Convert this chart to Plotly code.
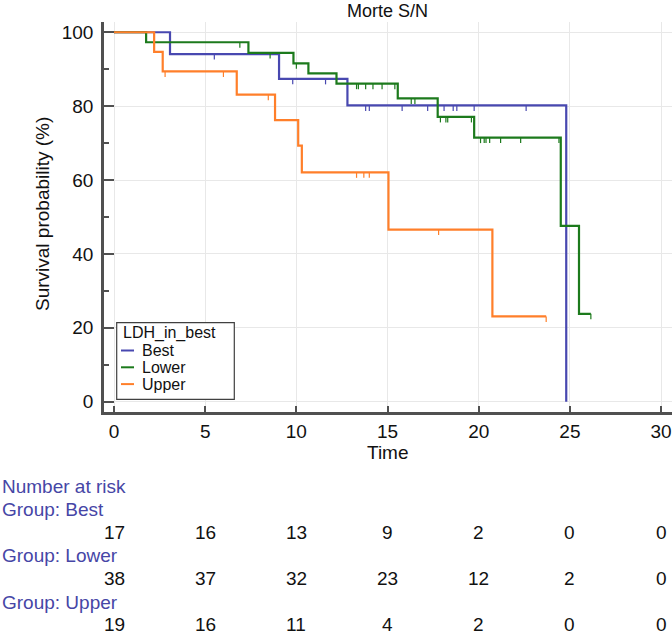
import numpy as np
import plotly.graph_objects as go

# ---------------- data ----------------
groups = ["Best", "Lower", "Upper"]
colors = ["#4848b0", "#1c7a1c", "#ff7f2a"]

best_t = [0, 3.07, 9.05, 12.8, 24.8]
best_s = [100, 94.1, 87.4, 80.2, 0]
best_end = 24.8
best_cens = [5.5, 9.8, 11.6, 13.8, 14.0, 15.8, 17.2, 18.1, 18.6, 18.8, 19.75, 22.6]

lower_t = [0, 1.76, 7.37, 9.84, 10.66, 12.2, 15.56, 17.75, 19.75, 24.5, 25.5]
lower_s = [100, 97.3, 94.4, 91.6, 88.9, 86.1, 82.1, 77.1, 71.5, 47.6, 23.8]
lower_end = 26.15
lower_cens = [6.9, 8.56, 10.0, 13.3, 13.4, 13.8, 14.2, 14.7, 15.4, 16.3, 16.5,
              17.9, 18.2, 18.3, 19.6, 20.1, 20.3, 20.4, 20.6, 21.2, 22.3, 24.4, 26.15]

upper_t = [0, 2.2, 2.67, 6.73, 8.83, 10.1, 10.3, 15.05, 20.75]
upper_s = [100, 94.7, 89.4, 83.1, 76.2, 69.3, 62.1, 46.6, 23.1]
upper_end = 23.7
upper_cens = [2.8, 6.0, 8.46, 13.3, 13.7, 14.0, 17.8, 23.7]

risk_times = [0, 5, 10, 15, 20, 25, 30]
risk_best = [17, 16, 13, 9, 2, 0, 0]
risk_lower = [38, 37, 32, 23, 12, 2, 0]
risk_upper = [19, 16, 11, 4, 2, 0, 0]

x_ticks = [0, 5, 10, 15, 20, 25, 30]
y_ticks = [0, 20, 40, 60, 80, 100]

# ---------------- layout geometry ----------------
W, H = 672, 637
L, R, T, B = 104, 672, 22, 412
FONT = "Liberation Sans, Arial, Helvetica, sans-serif"
RISK_COLOR = "#4646a6"
AXIS_COLOR = "#505050"


def px_x(px):
    return (px - L) / (R - L)


def px_y(py):
    return (B - py) / (B - T)


def step_value(ts, ss, t):
    i = np.searchsorted(np.asarray(ts), t, side="right") - 1
    return ss[max(i, 0)]


series = [
    (best_t, best_s, best_end, best_cens),
    (lower_t, lower_s, lower_end, lower_cens),
    (upper_t, upper_s, upper_end, upper_cens),
]

fig = go.Figure()
for name, color, (ts, ss, end, cens) in zip(groups, colors, series):
    xs = list(ts)
    ys = list(ss)
    if end > ts[-1]:
        xs.append(end)
        ys.append(ss[-1])
    fig.add_trace(go.Scatter(x=xs, y=ys, mode="lines", line=dict(color=color, width=2.2, shape="hv"),
                             name=name, showlegend=False, hoverinfo="skip"))
    cx, cy = [], []
    for c in cens:
        v = step_value(ts, ss, c)
        cx += [c, c, None]
        cy += [v, v - 1.5, None]
    fig.add_trace(go.Scatter(x=cx, y=cy, mode="lines", line=dict(color=color, width=1.2),
                             showlegend=False, hoverinfo="skip"))

annotations = []
shapes = []

# title
annotations.append(dict(text="Morte S/N", x=px_x(387), y=px_y(11), xref="paper", yref="paper",
                        showarrow=False, font=dict(size=18, color="#111", family=FONT),
                        xanchor="center", yanchor="middle"))
# y title
annotations.append(dict(text="Survival probability (%)", x=px_x(42), y=px_y(214), xref="paper", yref="paper",
                        showarrow=False, textangle=-90, font=dict(size=19, color="#111", family=FONT),
                        xanchor="center", yanchor="middle"))
# x title
annotations.append(dict(text="Time", x=px_x(388), y=px_y(452), xref="paper", yref="paper",
                        showarrow=False, font=dict(size=19, color="#111", family=FONT),
                        xanchor="center", yanchor="middle"))

# risk table
annotations.append(dict(text="Number at risk", x=px_x(0), y=px_y(486), xref="paper", yref="paper",
                        showarrow=False, font=dict(size=19, color=RISK_COLOR, family=FONT),
                        xanchor="left", yanchor="middle"))
rows = [("Group: Best", risk_best), ("Group: Lower", risk_lower), ("Group: Upper", risk_upper)]
row_y = 509
for label, vals in rows:
    annotations.append(dict(text=label, x=px_x(0), y=px_y(row_y), xref="paper", yref="paper",
                            showarrow=False, font=dict(size=19, color=RISK_COLOR, family=FONT),
                            xanchor="left", yanchor="middle"))
    for t, v in zip(risk_times, vals):
        annotations.append(dict(text=str(v), x=t, y=px_y(row_y + 23), xref="x", yref="paper",
                                showarrow=False, font=dict(size=19, color="#111", family=FONT),
                                xanchor="center", yanchor="middle"))
    row_y += 46.5

# custom legend
lx0, lx1, ly0, ly1 = 116.7, 234.3, 322.7, 399.3
shapes.append(dict(type="rect", xref="paper", yref="paper", x0=px_x(lx0), x1=px_x(lx1),
                   y0=px_y(ly1), y1=px_y(ly0), line=dict(color="#404040", width=1.2),
                   fillcolor="white", layer="above"))
annotations.append(dict(text="LDH_in_best", x=px_x(121), y=px_y(332.5), xref="paper", yref="paper",
                        showarrow=False, font=dict(size=16, color="#111", family=FONT),
                        xanchor="left", yanchor="middle"))
for i, (name, color) in enumerate(zip(groups, colors)):
    yy = 350.5 + i * 16.8
    shapes.append(dict(type="line", xref="paper", yref="paper", x0=px_x(121), x1=px_x(134),
                       y0=px_y(yy), y1=px_y(yy), line=dict(color=color, width=2), layer="above"))
    annotations.append(dict(text=name, x=px_x(140), y=px_y(yy), xref="paper", yref="paper",
                            showarrow=False, font=dict(size=16, color="#111", family=FONT),
                            xanchor="left", yanchor="middle"))

fig.update_layout(
    width=W, height=H,
    margin=dict(l=L, r=W - R, t=T, b=H - B, pad=0),
    plot_bgcolor="white", paper_bgcolor="white",
    showlegend=False,
    font=dict(family=FONT, size=19, color="#111"),
    annotations=annotations,
    shapes=shapes,
    xaxis=dict(range=[-0.55, 30.6], tickvals=x_ticks, ticks="inside", ticklen=6, tickwidth=1.5,
               tickcolor=AXIS_COLOR, showline=True, linecolor=AXIS_COLOR, linewidth=2.5,
               showgrid=True, gridcolor="#e8e8e8", gridwidth=1, zeroline=False,
               tickfont=dict(size=19, color="#111"), ticklabelstandoff=0),
    yaxis=dict(range=[-2.78, 102.78], tickvals=y_ticks, ticks="inside", ticklen=10, tickwidth=1.5,
               tickcolor=AXIS_COLOR, showline=True, linecolor=AXIS_COLOR, linewidth=2.5,
               showgrid=True, gridcolor="#e8e8e8", gridwidth=1, zeroline=False,
               tickfont=dict(size=19, color="#111"), ticklabelstandoff=4,
               minor=dict(dtick=10, ticks="inside", ticklen=5, tickcolor=AXIS_COLOR, showgrid=False)),
)

fig.write_html("out.html", config={"displayModeBar": False},
               post_script="document.body.style.margin='0px';document.body.style.overflow='hidden';")
